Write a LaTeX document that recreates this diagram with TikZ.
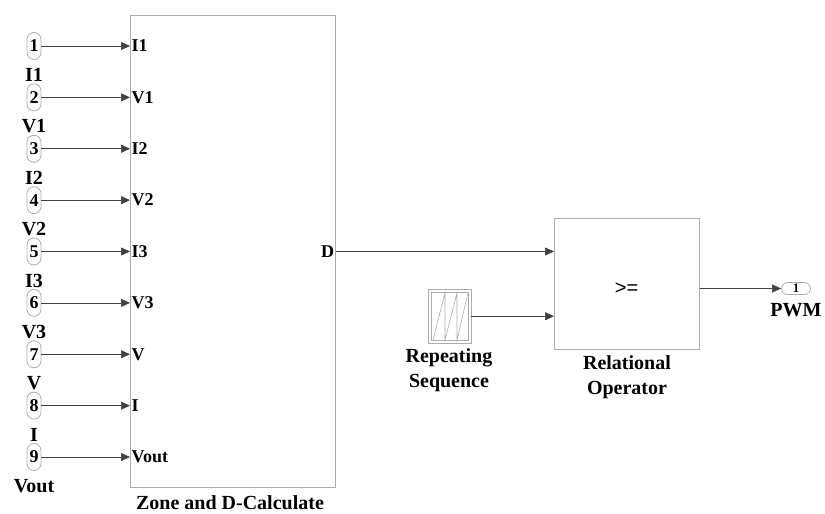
\documentclass[tikz,border=0pt]{standalone}
\usepackage{fontspec}
\setmainfont{Liberation Serif}
\newfontfamily\opfont{Liberation Sans}
\usetikzlibrary{arrows.meta,positioning}
\tikzset{
  blockbox/.style={draw=gray!65, line width=0.8pt, inner sep=0pt},
  inport/.style={draw=gray!65, line width=0.8pt, rounded corners=7pt, minimum width=14pt, minimum height=27pt, inner sep=0pt, font=\fontsize{18}{18}\bfseries},
  outport/.style={draw=gray!65, line width=0.8pt, rounded corners=6pt, minimum width=29pt, minimum height=12pt, inner sep=0pt, font=\fontsize{13}{13}\bfseries},
  sig/.style={draw=black!75, line width=0.6pt, -{Triangle[length=9pt,width=8pt]}},
  blocklabel/.style={font=\fontsize{20}{25}\bfseries, align=center, inner sep=0pt},
  portlabel/.style={font=\fontsize{18}{18}\bfseries, inner sep=1.5pt}
}
\begin{document}
\begin{tikzpicture}[x=1pt, y=-1pt]
  \useasboundingbox (0,0) rectangle (825,514);

  % Zone and D-Calculate block
  \node[blockbox, minimum width=205pt, minimum height=472pt, anchor=north west] (zone) at (130,15) {};
  \node[blocklabel] at (230,503) {Zone and D-Calculate};

  % Inports
  \foreach \n/\name [count=\k from 0] in {1/I1,2/V1,3/I2,4/V2,5/I3,6/V3,7/V,8/I,9/Vout}{
    \node[inport] (in\n) at (34,{46+51.375*\k}) {\n};
    \node[blocklabel] (lab\n) at (34,{75+51.375*\k}) {\name};
    \coordinate (p\n) at (zone.west |- in\n);
    \draw[sig] (in\n) -- (p\n);
    \node[portlabel, anchor=west] at (p\n) {\name};
  }

  % Output D
  \coordinate (dout) at (zone.east |- in5);
  \node[portlabel, anchor=east] at (dout) {D};

  % Relational Operator
  \node[blockbox, minimum width=145pt, minimum height=131pt, anchor=north west] (relop) at (554,218) {};
  \node[font=\fontsize{20}{20}\opfont] (ge) at (626.5,289) {>=};
  \node[blocklabel] at (627,377) {Relational\\Operator};

  % Repeating Sequence
  \node[blockbox, minimum width=43pt, minimum height=54pt] (rep) at (449.5,316.25) {};
  \draw[gray!65, line width=0.6pt] (431,292) rectangle (468,340);
  \draw[gray!65, line width=0.6pt] (433,340) -- (445,293) -- (445,340) -- (457,293) -- (457,340) -- (468,293);
  \node[blocklabel] at (449,370) {Repeating\\Sequence};

  % Outport PWM
  \node[outport] (pwm) at (796,288.5) {1};
  \node[blocklabel] at (796,310) {PWM};

  % Connectors
  \draw[sig] (dout) -- (relop.west |- dout);
  \draw[sig] (rep.east) -- (relop.west |- rep.east);
  \draw[sig] (relop.east |- pwm) -- (pwm.west);

\end{tikzpicture}
\end{document}
